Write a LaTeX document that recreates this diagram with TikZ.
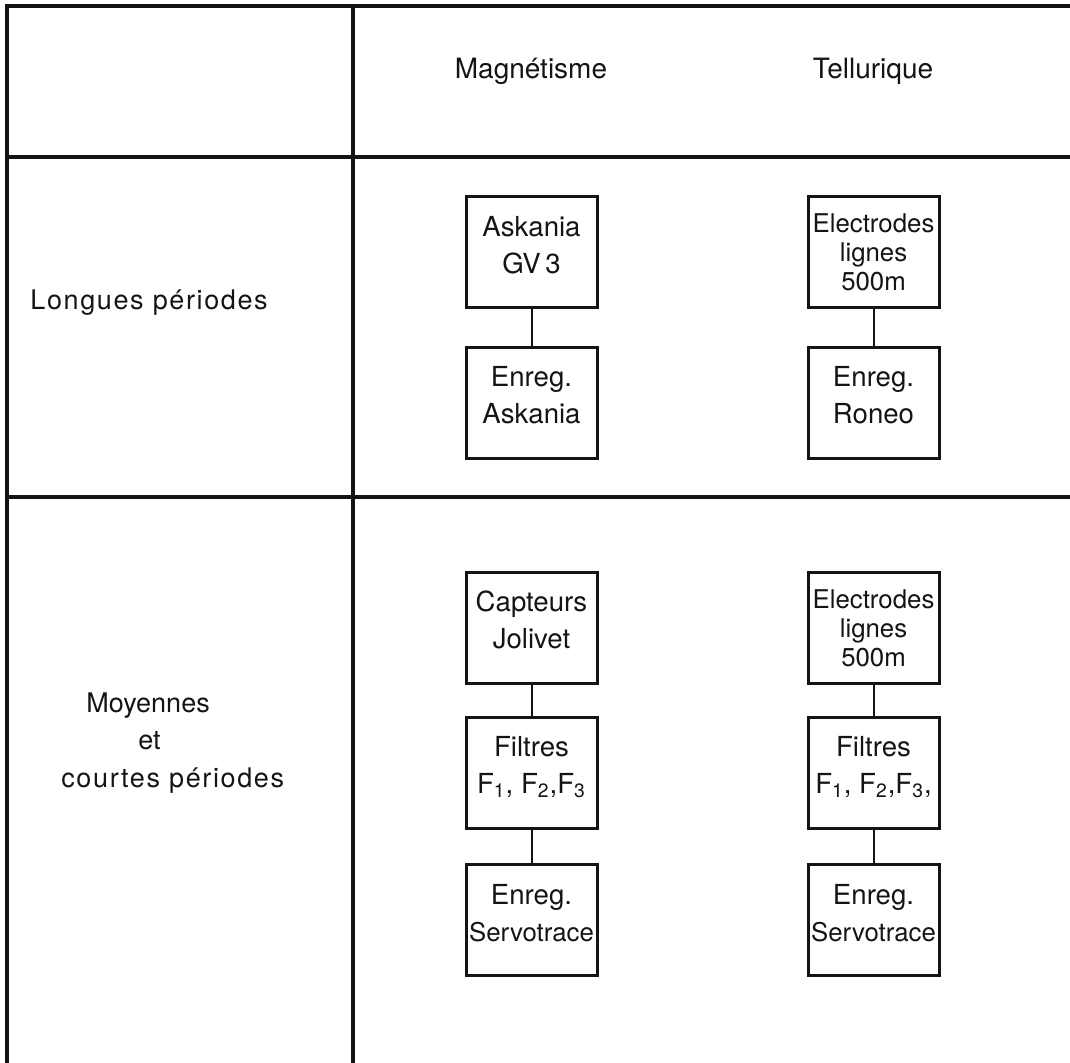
\documentclass[tikz,border=0pt]{standalone}
\usepackage{fontspec}
\setmainfont{TeX Gyre Heros}
\newfontfamily\spaced[LetterSpace=6]{TeX Gyre Heros}
\usetikzlibrary{positioning}
\definecolor{ink}{HTML}{141414}
\newcommand{\lowpad}{\rule[-8pt]{0pt}{8pt}}
\newcommand{\subidx}[1]{\textsubscript{#1}}

\begin{document}
\begin{tikzpicture}[
  x=0.5pt,y=0.5pt,
  rule/.style={line width=1.7pt,draw=ink},
  head/.style={font=\fontsize{14}{17}\selectfont,text=ink,inner sep=0pt},
  rowlabel/.style={font=\fontsize{13.5}{18.75}\selectfont,text=ink,align=left,inner sep=0pt},
  box/.style={draw=ink,line width=1.5pt,minimum width=65.5pt,minimum height=55.5pt,
    inner sep=0pt,align=center,text=ink,font=\fontsize{13.8}{18.5}\selectfont},
  elec/.style={font=\fontsize{12.9}{14.5}\selectfont},
  link/.style={draw=ink,line width=1pt}
]
\useasboundingbox (0,0) rectangle (1070,1063);

% table rules
\draw[rule] (7,0) -- (7,1057) -- (1070,1057);
\draw[rule] (7,906) -- (1070,906);
\draw[rule] (7,566) -- (1070,566);
\draw[rule] (353,0) -- (353,1057);

% column heads
\node[head,anchor=base] (magn) at (531,984) {Magnétisme};
\node[head,anchor=base] (tell) at (873,984) {Tellurique};

% row labels
\node[rowlabel,anchor=base west] (longp) at (30,753) {\spaced Longues périodes};
\node[rowlabel,anchor=west] (courtp) at (61,320)
  {\hspace*{12.5pt}Moyennes\\\hspace*{38.5pt}et\\{\spaced courtes périodes}};

% long periods
\node[box] (askA) at (531.5,810.5) {Askania\\GV\,3\lowpad};
\node[box] (askB) at (531.5,660) {Enreg.\\Askania\lowpad};
\draw[link] (askA) -- (askB);

\node[box,elec] (elecA) at (873.5,810.5) {Electrodes\\lignes\\500m};
\node[box] (roneo) at (873.5,660) {Enreg.\\Roneo\lowpad};
\draw[link] (elecA) -- (roneo);

% medium and short periods
\node[box] (capt) at (531.5,435) {Capteurs\\Jolivet\lowpad};
\node[box] (filtM) at (531.5,290) {Filtres\\F\subidx{1}, F\subidx{2},F\subidx{3}\lowpad};
\node[box] (servM) at (531.5,142.5) {Enreg.\\{\fontsize{12.9}{18.5}\selectfont Servotrace}\lowpad};
\draw[link] (capt) -- (filtM);
\draw[link] (filtM) -- (servM);

\node[box,elec] (elecB) at (873.5,435) {Electrodes\\lignes\\500m};
\node[box] (filtT) at (873.5,290) {Filtres\\F\subidx{1}, F\subidx{2},F\subidx{3},\lowpad};
\node[box] (servT) at (873.5,142.5) {Enreg.\\{\fontsize{12.9}{18.5}\selectfont Servotrace}\lowpad};
\draw[link] (elecB) -- (filtT);
\draw[link] (filtT) -- (servT);
\end{tikzpicture}
\end{document}
